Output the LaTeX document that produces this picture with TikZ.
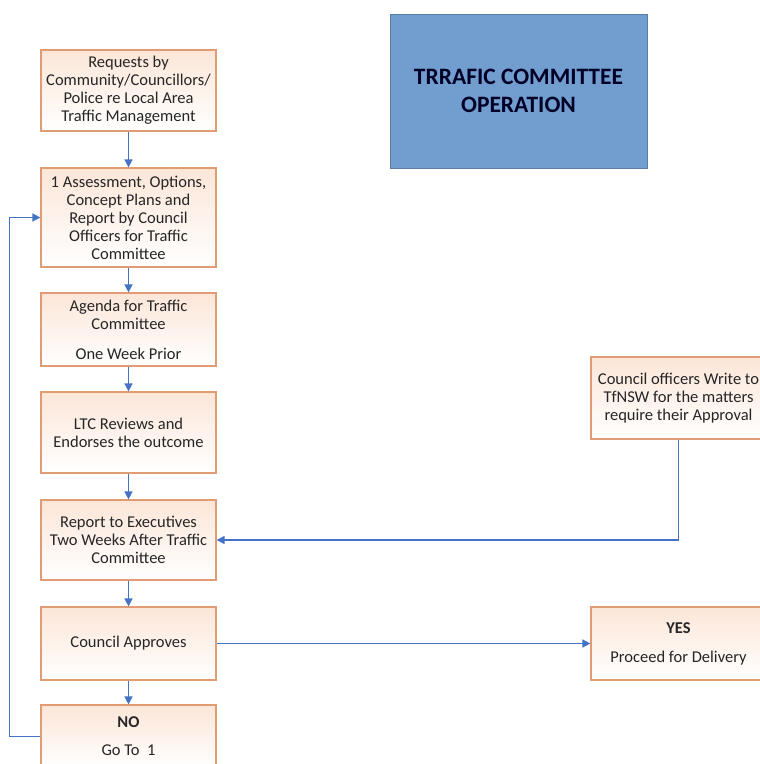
\documentclass[tikz,border=0pt]{standalone}
\usepackage{fontspec}
\setmainfont{Carlito}
\usetikzlibrary{arrows.meta}
\definecolor{boxline}{RGB}{226,156,116}
\definecolor{boxtop}{RGB}{252,230,216}
\definecolor{flowblue}{RGB}{68,114,196}
\definecolor{titlefill}{RGB}{114,158,207}
\tikzset{
  stage/.style = { draw=boxline, line width=1.2pt, top color=boxtop, bottom color=white,
                   minimum width=175pt, align=center, inner sep=2pt,
                   font=\fontsize{16.5}{18}\selectfont, text=black!85 },
  flow/.style  = { draw=flowblue, line width=1.5pt, -{Triangle[length=8pt,width=8pt]} },
  banner/.style = { draw=titlefill!80!black, fill=titlefill, line width=0.8pt,
                    minimum width=257pt, minimum height=154pt, align=center,
                    font=\fontsize{23.5}{28}\selectfont\bfseries, text=black!85!blue }
}

\begin{document}
\begin{tikzpicture}[x=1pt,y=1pt]
  \useasboundingbox (0,0) rectangle (760,-764);
  % Draw the title
  \node[banner] (title) at (518.5,-91) {TRRAFIC COMMITTEE\\OPERATION};
  % Draw all stages
  \node[stage, minimum height=81pt] (req) at (128.5,-90.5) {Requests by\\Community/Councillors/\\Police re Local Area\\Traffic Management};
  \node[stage, minimum height=99pt] (assess) at (128.5,-217.5) {1 Assessment, Options,\\Concept Plans and\\Report by Council\\Officers for Traffic\\Committee};
  \node[stage, minimum height=73pt] (agenda) at (128.5,-329.5) {Agenda for Traffic\\Committee\\[12pt]One Week Prior};
  \node[stage, minimum height=81pt] (review) at (128.5,-432.5) {LTC Reviews and\\Endorses the outcome};
  \node[stage, minimum height=80pt] (report) at (128.5,-540) {Report to Executives\\Two Weeks After Traffic\\Committee};
  \node[stage, minimum height=73pt] (approve) at (128.5,-643.5) {Council Approves};
  \node[stage, minimum height=63pt] (nogo) at (128.5,-736.5) {\textbf{NO}\\[10pt]Go To~~1};
  \node[stage, minimum height=82pt] (tfnsw) at (678.5,-398) {Council officers Write to\\TfNSW for the matters\\require their Approval};
  \node[stage, minimum height=73pt] (yes) at (678.5,-643.5) {\textbf{YES}\\[11pt]Proceed for Delivery};
  % Draw connectors
  \draw[flow] (req) -- (assess);
  \draw[flow] (assess) -- (agenda);
  \draw[flow] (agenda) -- (review);
  \draw[flow] (review) -- (report);
  \draw[flow] (report) -- (approve);
  \draw[flow] (approve) -- (nogo);
  \draw[flow] (approve) -- (yes);
  \draw[flow] (tfnsw.south) |- (report.east);
  \draw[flow] (nogo.west) -- ++(-31,0) |- (assess.west);
\end{tikzpicture}
\end{document}
